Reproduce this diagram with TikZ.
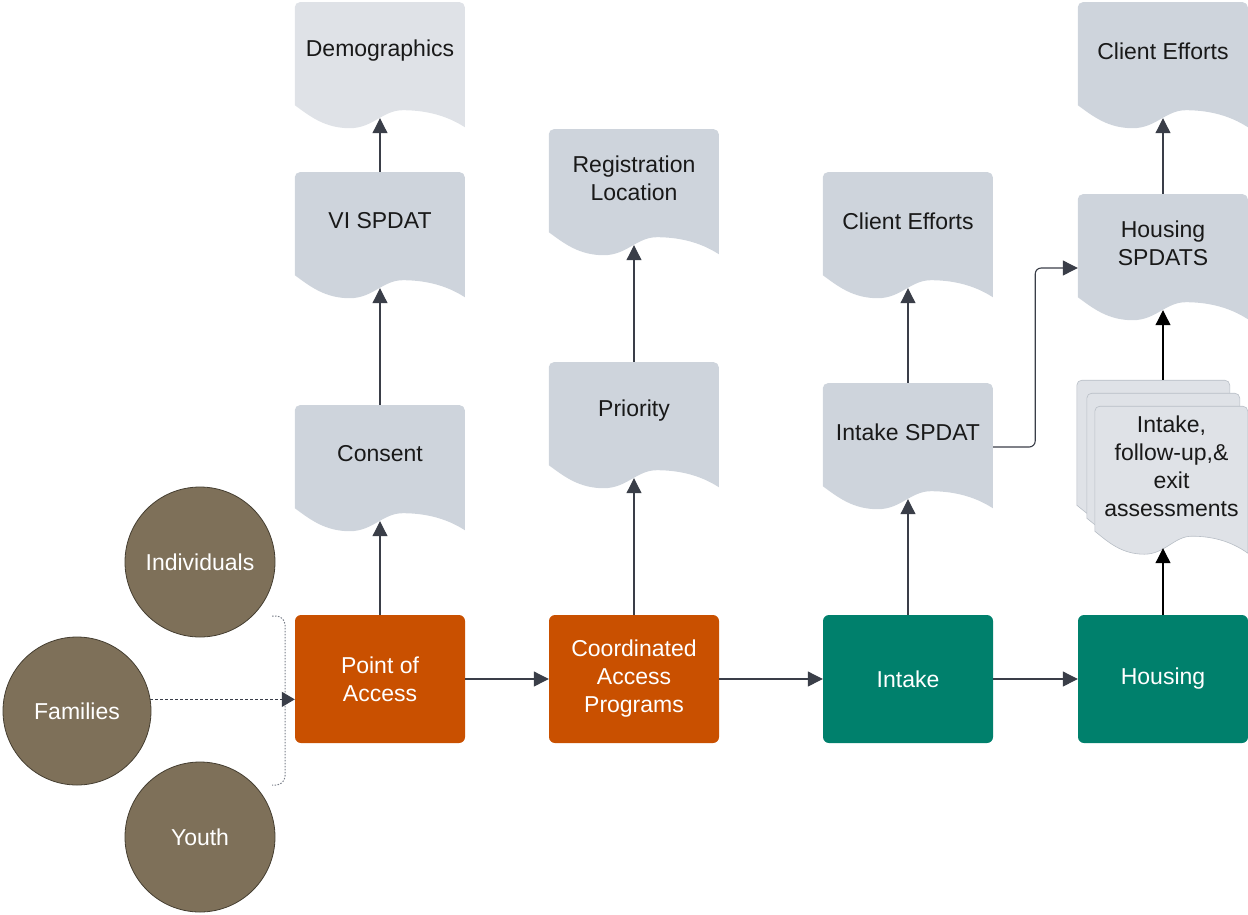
\documentclass[tikz,border=0pt]{standalone}
\usepackage{fontspec}
\setmainfont{Liberation Sans}
\usetikzlibrary{arrows.meta,backgrounds,calc}
\definecolor{docgray}{RGB}{206,212,220}
\definecolor{doclight}{RGB}{223,226,231}
\definecolor{docedge}{RGB}{184,190,198}
\definecolor{orng}{RGB}{201,80,0}
\definecolor{tealc}{RGB}{0,128,108}
\definecolor{brownc}{RGB}{126,112,89}
\definecolor{arrc}{RGB}{58,62,72}
\definecolor{txtc}{RGB}{25,25,25}
\definecolor{brkc}{RGB}{120,126,136}

% #1 colour, #2 x-scale, #3 height of the straight part, #4 extra path options, #5 south-west corner
\newcommand\docfill[5]{%
  \begin{scope}[shift={(#5)}, xscale=#2]
    \path[fill=#1,#4] (0,5) [rounded corners=5pt] -- (0,-#3) -- (170,-#3) [sharp corners] -- (170,27)
      .. controls (150,14) and (128,10) .. (108,10)
      .. controls (88,10) and (78,28) .. (55,28)
      .. controls (30,28) and (15,16) .. (0,5) -- cycle;
  \end{scope}}

\begin{document}
\begin{tikzpicture}[x=1pt,y=-1pt,
  every node/.style={font=\fontsize{23}{28}\selectfont, align=center, inner sep=0pt},
  proc/.style={rectangle, rounded corners=6pt, minimum width=170pt, minimum height=128pt, text=white},
  docnode/.style={rectangle, minimum width=170pt, minimum height=98pt, text=txtc},
  circ/.style={circle, minimum size=150pt, fill=brownc, draw=brownc!55!black, line width=0.8pt, text=white},
  arr/.style={draw=arrc, line width=1.1pt, -{Triangle[length=15pt,width=15pt]}},
  arrb/.style={draw=black, line width=1.1pt, -{Triangle[length=15pt,width=15pt]}},
  brk/.style={draw=brkc, line width=1pt, dash pattern=on 1.5pt off 1.5pt, rounded corners=9pt},
  famline/.style={draw=arrc, line width=1.1pt, dash pattern=on 3pt off 2pt, -{Triangle[length=13pt,width=15pt]}}
]
\useasboundingbox (0,0) rectangle (1248,914);

% process boxes
\node[proc, fill=orng] (poa) at (380,679) {Point of\\Access};
\node[proc, fill=orng] (cap) at (634,679) {Coordinated\\Access\\Programs};
\node[proc, fill=tealc] (intake) at (908,679) {Intake};
\node[proc, fill=tealc] (housing) at (1163,679) {Housing};

% documents
\node[docnode] (demo) at (380,51) {Demographics};
\node[docnode] (vis) at (380,221) {VI SPDAT};
\node[docnode] (consent) at (380,454) {Consent};
\node[docnode] (reg) at (634,178) {Registration\\Location};
\node[docnode] (prio) at (634,411) {Priority};
\node[docnode] (ce1) at (908,221) {Client Efforts};
\node[docnode] (isp) at (908,432) {Intake SPDAT};
\node[docnode] (ce2) at (1163,51) {Client Efforts};
\node[docnode] (hsp) at (1163,243) {Housing\\SPDATS};
\node[docnode, minimum width=153pt, minimum height=120pt] (multi) at (1171.5,466) {Intake,\\follow-up,\&\\exit\\assessments};

% circles
\node[circ] (ind) at (200,562) {Individuals};
\node[circ, minimum size=148pt] (fam) at (77,711) {Families};
\node[circ] (youth) at (200,837) {Youth};

\begin{scope}[on background layer]
  \docfill{doclight}{1}{98}{}{demo.south west}
  \docfill{docgray}{1}{98}{}{vis.south west}
  \docfill{docgray}{1}{98}{}{consent.south west}
  \docfill{docgray}{1}{98}{}{reg.south west}
  \docfill{docgray}{1}{98}{}{prio.south west}
  \docfill{docgray}{1}{98}{}{ce1.south west}
  \docfill{docgray}{1}{98}{}{isp.south west}
  \docfill{docgray}{1}{98}{}{ce2.south west}
  \docfill{docgray}{1}{98}{}{hsp.south west}
  \docfill{doclight}{0.9}{120}{draw=docedge,line width=0.6pt}{$(multi.south west)+(-18,-26)$}
  \docfill{doclight}{0.9}{120}{draw=docedge,line width=0.6pt}{$(multi.south west)+(-8,-13)$}
  \docfill{doclight}{0.9}{120}{draw=docedge,line width=0.6pt}{multi.south west}
\end{scope}

% main flow
\draw[arr] (poa) -- (cap);
\draw[arr] (cap) -- (intake);
\draw[arr] (intake) -- (housing);

% vertical chains
\draw[arr] (poa.north) -- ([yshift=-18pt]consent.south);
\draw[arr] (consent.north) -- ([yshift=-18pt]vis.south);
\draw[arr] (vis.north) -- ([yshift=-18pt]demo.south);
\draw[arr] (cap.north) -- ([yshift=-18pt]prio.south);
\draw[arr] (prio.north) -- ([yshift=-18pt]reg.south);
\draw[arr] (intake.north) -- ([yshift=-18pt]isp.south);
\draw[arr] (isp.north) -- ([yshift=-18pt]ce1.south);
\draw[arr, rounded corners=6pt] ([yshift=-15pt]isp.east) -- ([yshift=-15pt,xshift=42pt]isp.east) |- ([yshift=-25pt]hsp.west);

\coordinate (mtip) at ([yshift=-22pt]multi.south);
\coordinate (mtop) at ([yshift=26pt]multi.north);
\draw[arrb] (housing.north) -- (housing.north |- mtip);
\draw[arrb] (mtop -| hsp.south) -- ([yshift=-18pt]hsp.south);
\draw[arr] (hsp.north) -- ([yshift=-18pt]ce2.south);

% bracket and families link
\coordinate (bt) at (272,616);
\coordinate (bb) at (272,785);
\draw[brk] (bt) -- ([xshift=13pt]bt) -- ([xshift=13pt]bb) -- (bb);
\draw[famline] (fam.9) -- (fam.9 -| poa.west);
\end{tikzpicture}
\end{document}
